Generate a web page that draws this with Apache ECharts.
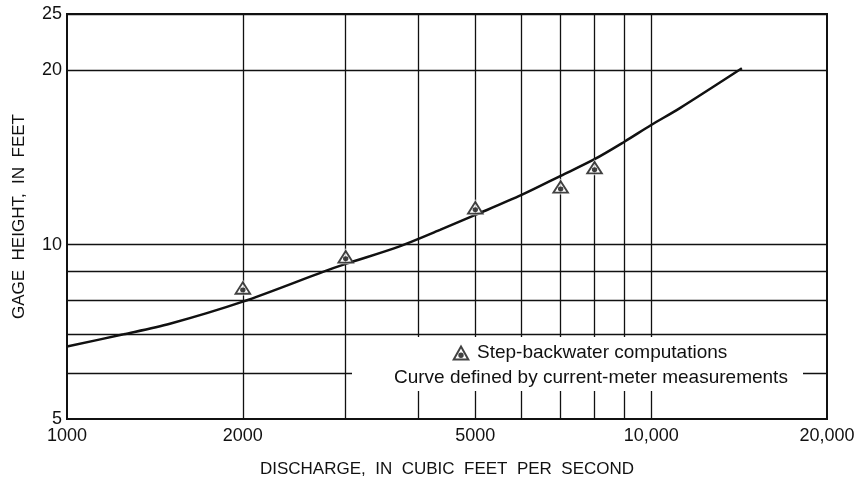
<!DOCTYPE html>
<html>
<head>
<meta charset="utf-8">
<script src="https://cdn.jsdelivr.net/npm/echarts@6/dist/echarts.min.js"></script>
<style>
  html, body { margin: 0; padding: 0; background: #fff; }
  #chart { width: 857px; height: 480px; }
</style>
</head>
<body>
<div id="chart"></div>
<script>
// Rating curve defined by current-meter measurements: discharge (cfs) vs gage height (ft)
const curveDischarge = [1000, 1250, 1500, 2000, 2750, 3000, 3700, 4350, 5000, 6000, 7000, 8000, 9000, 10000, 11200, 14300];
const curveStage     = [6.67, 7.0, 7.3, 7.97, 8.98, 9.26, 9.92, 10.6, 11.25, 12.18, 13.14, 14.04, 15.05, 16.08, 17.2, 20.15];

// Step-backwater computations
const stepDischarge = [2000, 3000, 5000, 7000, 8000];
const stepStage     = [8.34, 9.44, 11.47, 12.46, 13.45];

// Grid lines and labelled ticks
const xGridValues  = [2000, 3000, 4000, 5000, 6000, 7000, 8000, 9000, 10000];
const yGridValues  = [6, 7, 8, 9, 10, 20, 25];
const xTickLabels  = [1000, 2000, 5000, 10000, 20000];
const yTickLabels  = [5, 10, 20, 25];

const FONT = '"Liberation Sans", Arial, Helvetica, sans-serif';
const INK = '#111';

// Open triangle with a dot near its base; the dot sits on the data point
const triangleDot = 'path://M9,0L18,16L0,16Z M9,4.1L3.4,14L14.6,14Z M6.3,10.74A2.7,2.7,0,1,1,11.7,10.74A2.7,2.7,0,1,1,6.3,10.74Z';
const triSize = [18, 16];
const triOffset = [0, -2.74];

const pairs = (xs, ys) => xs.map((x, i) => [x, ys[i]]);

const chart = echarts.init(document.getElementById('chart'), null, { renderer: 'canvas' });

chart.setOption({
  backgroundColor: '#fff',
  animation: false,
  textStyle: { fontFamily: FONT, color: INK },
  grid: {
    left: 67, right: 30, top: 14, bottom: 61,
    outerBoundsMode: 'none',
    containLabel: false,
    show: true, borderColor: INK, borderWidth: 2, backgroundColor: 'transparent'
  },
  xAxis: {
    type: 'log', logBase: 10, min: 1000, max: 20000,
    name: 'DISCHARGE,  IN  CUBIC  FEET  PER  SECOND',
    nameLocation: 'middle', nameGap: 42,
    nameTextStyle: { fontSize: 17, color: INK, fontFamily: FONT },
    axisLine: { show: false },
    axisTick: { show: false, customValues: xGridValues },
    splitLine: { show: true, lineStyle: { color: INK, width: 1.3 } },
    axisLabel: {
      customValues: xTickLabels,
      fontSize: 18, color: INK, fontFamily: FONT, margin: 8,
      formatter: v => {
        const n = Math.round(v);
        return n >= 10000 ? n.toLocaleString('en-US') : String(n);
      }
    }
  },
  yAxis: {
    type: 'log', logBase: 10, min: 5, max: 25,
    name: 'GAGE  HEIGHT,  IN  FEET',
    nameLocation: 'middle', nameGap: 39, nameRotate: 90,
    nameTextStyle: { fontSize: 17, color: INK, fontFamily: FONT },
    axisLine: { show: false },
    axisTick: { show: false, customValues: yGridValues },
    splitLine: { show: true, lineStyle: { color: INK, width: 1.3 } },
    axisLabel: {
      customValues: yTickLabels,
      fontSize: 18, color: INK, fontFamily: FONT, margin: 5,
      formatter: v => String(Math.round(v))
    }
  },
  // White panel behind the key
  graphic: [{
    type: 'rect', z: 1,
    shape: { x: 352, y: 337, width: 451, height: 54 },
    style: { fill: '#fff' }
  }],
  legend: [
    {
      data: [{ name: 'Step-backwater computations', icon: triangleDot }],
      left: 452, top: 343, padding: 0,
      itemWidth: 18, itemHeight: 16, itemGap: 0,
      selectedMode: false,
      textStyle: { fontSize: 19, color: INK, fontFamily: FONT, padding: [0, 0, 0, 2] }
    },
    {
      data: [{ name: 'Curve defined by current-meter measurements' }],
      left: 388, top: 368, padding: 0,
      itemWidth: 0, itemHeight: 0,
      selectedMode: false,
      itemStyle: { opacity: 0 }, lineStyle: { opacity: 0 },
      textStyle: { fontSize: 19, color: INK, fontFamily: FONT }
    }
  ],
  series: [
    {
      name: 'Curve defined by current-meter measurements',
      type: 'line',
      data: pairs(curveDischarge, curveStage),
      smooth: 0.3,
      symbol: 'none',
      lineStyle: { color: INK, width: 2.5 },
      itemStyle: { color: INK },
      z: 3
    },
    {
      name: 'triangle-fill',
      type: 'scatter',
      data: pairs(stepDischarge, stepStage),
      symbol: 'triangle',
      symbolSize: triSize,
      symbolOffset: triOffset,
      itemStyle: { color: '#fff' },
      silent: true,
      z: 4
    },
    {
      name: 'Step-backwater computations',
      type: 'scatter',
      data: pairs(stepDischarge, stepStage),
      symbol: triangleDot,
      symbolSize: triSize,
      symbolOffset: triOffset,
      symbolKeepAspect: true,
      itemStyle: { color: INK },
      z: 5
    }
  ]
});
</script>
</body>
</html>
